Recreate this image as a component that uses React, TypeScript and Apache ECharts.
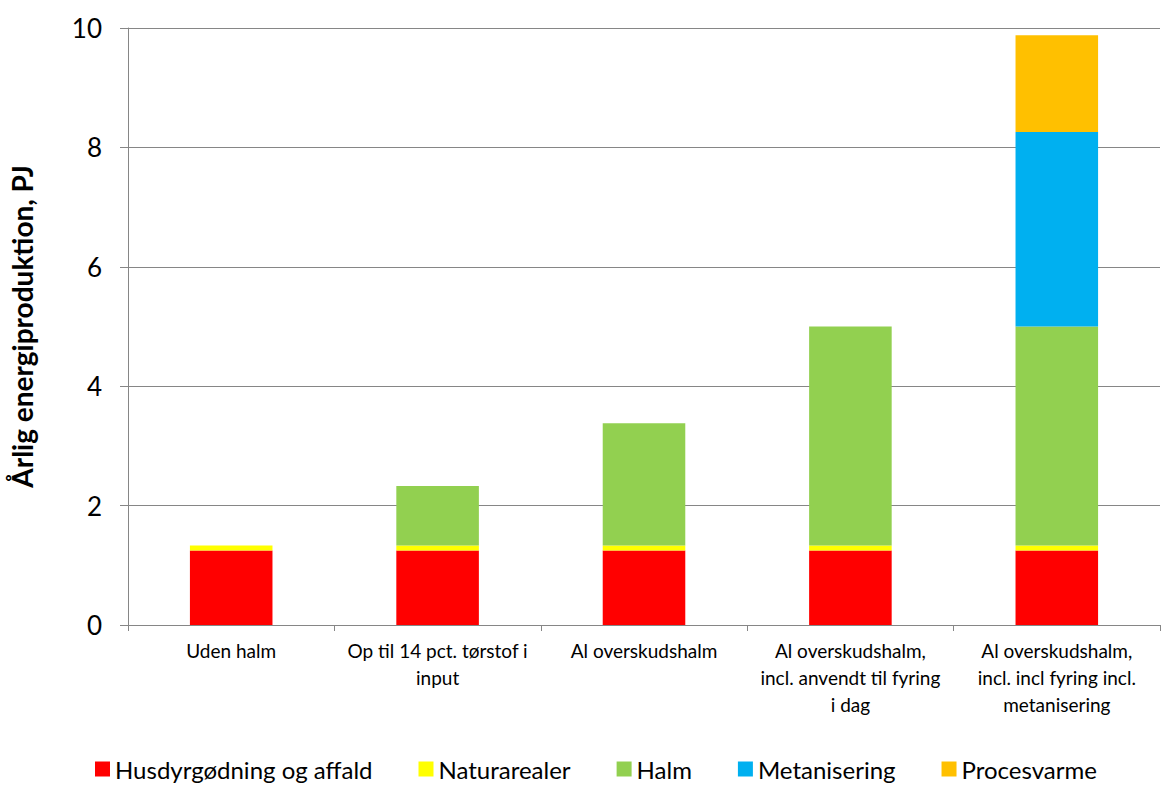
import React, { useEffect, useRef } from "react";
import * as echarts from "echarts";

const categories = [
  "Uden halm",
  "Op til 14 pct. tørstof i\ninput",
  "Al overskudshalm",
  "Al overskudshalm,\nincl. anvendt til fyring\ni dag",
  "Al overskudshalm,\nincl. incl fyring incl.\nmetanisering",
];
const husdyr = [1.25, 1.25, 1.25, 1.25, 1.25];
const natur = [0.08, 0.08, 0.08, 0.08, 0.08];
const halm = [null, 1.0, 2.05, 3.67, 3.67];
const metan = [null, null, null, null, 3.26];
const proces = [null, null, null, null, 1.62];
const yTicks = { min: 0, max: 10, interval: 2 };

const FONT = "Lato, 'Open Sans', sans-serif";

export default function App() {
  const ref = useRef<HTMLDivElement>(null);
  useEffect(() => {
    document.body.style.margin = "0";
    const chart = echarts.init(ref.current!, undefined, { renderer: "svg" });
    const mk = (name: string, data: any[], color: string) => ({
      name,
      type: "bar",
      stack: "total",
      data,
      barWidth: "40%",
      itemStyle: { color },
    });
    chart.setOption({
      animation: false,
      textStyle: { fontFamily: FONT },
      grid: { left: 127, right: 3, top: 28, bottom: 161 },
      legend: {
        bottom: 0,
        left: 90,
        icon: "rect",
        itemWidth: 15,
        itemHeight: 15,
        itemGap: 46,
        itemStyle: { borderWidth: 0 },
        textStyle: { fontSize: 24, color: "#000", fontFamily: FONT },
      },
      xAxis: {
        type: "category",
        data: categories,
        axisLine: { lineStyle: { color: "#868686" } },
        axisTick: { show: true, length: 6, lineStyle: { color: "#868686" } },
        axisLabel: {
          color: "#000",
          fontSize: 19,
          lineHeight: 27,
          margin: 12,
          interval: 0,
          fontFamily: FONT,
        },
      },
      yAxis: {
        type: "value",
        min: yTicks.min,
        max: yTicks.max,
        interval: yTicks.interval,
        name: "Årlig energiproduktion, PJ",
        nameLocation: "middle",
        nameGap: 92,
        nameTextStyle: { fontSize: 28, fontWeight: "bold", color: "#000", fontFamily: FONT },
        axisLine: { show: true, lineStyle: { color: "#868686" } },
        axisTick: { show: true, length: 8, lineStyle: { color: "#868686" } },
        splitLine: { lineStyle: { color: "#868686" } },
        axisLabel: { color: "#000", fontSize: 26, margin: 26, fontFamily: FONT },
      },
      series: [
        mk("Husdyrgødning og affald", husdyr, "#FF0000"),
        mk("Naturarealer", natur, "#FFFF00"),
        mk("Halm", halm, "#92D050"),
        mk("Metanisering", metan, "#00B0F0"),
        mk("Procesvarme", proces, "#FFC000"),
      ],
    });
    return () => chart.dispose();
  }, []);
  return <div ref={ref} style={{ width: 1163, height: 786 }} />;
}
